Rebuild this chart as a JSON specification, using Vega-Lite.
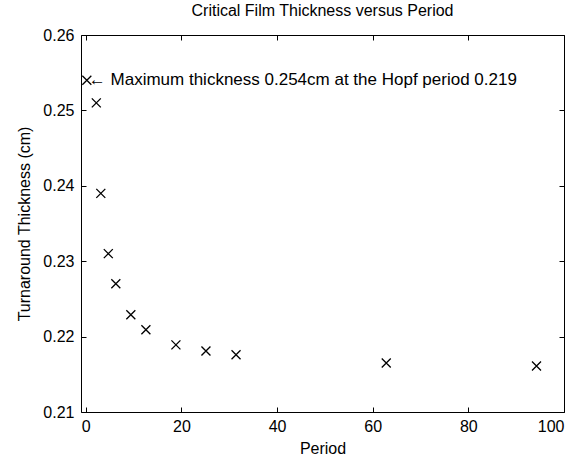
{
  "$schema": "https://vega.github.io/schema/vega-lite/v6.json",
  "autosize": "none",
  "width": 483,
  "height": 377,
  "padding": {"left": 81, "top": 35, "right": 23, "bottom": 46},
  "title": {"text": "Critical Film Thickness versus Period", "font": "Liberation Sans", "fontSize": 16, "fontWeight": "normal", "color": "black", "offset": 8},
  "config": {
    "view": {"stroke": "black", "strokeWidth": 1},
    "font": "Liberation Sans",
    "axis": {"grid": false, "domain": false, "tickColor": "black", "tickSize": -5, "labelColor": "black", "labelFont": "Liberation Sans", "labelFontSize": 16, "titleFont": "Liberation Sans", "titleFontSize": 16, "titleFontWeight": "normal", "titleColor": "black"}
  },
  "data": {"values": [
    {"period": 0.219, "thickness": 0.254, "label": "← Maximum thickness 0.254cm at the Hopf period 0.219"},
    {"period": 2.2, "thickness": 0.251, "label": ""},
    {"period": 3.14, "thickness": 0.239, "label": ""},
    {"period": 4.71, "thickness": 0.231, "label": ""},
    {"period": 6.28, "thickness": 0.227, "label": ""},
    {"period": 9.42, "thickness": 0.2229, "label": ""},
    {"period": 12.57, "thickness": 0.2209, "label": ""},
    {"period": 18.85, "thickness": 0.2189, "label": ""},
    {"period": 25.13, "thickness": 0.2181, "label": ""},
    {"period": 31.42, "thickness": 0.2176, "label": ""},
    {"period": 62.83, "thickness": 0.2165, "label": ""},
    {"period": 94.25, "thickness": 0.2161, "label": ""}
  ]},
  "layer": [
    {
      "mark": {"type": "point", "shape": "M-1,-1L1,1M-1,1L1,-1", "filled": false, "size": 81, "stroke": "black", "strokeWidth": 1.3, "opacity": 1},
      "encoding": {
        "x": {"field": "period", "type": "quantitative", "scale": {"domain": [-1, 100], "nice": false, "zero": false}, "axis": {"orient": "bottom", "title": "Period", "values": [0, 20, 40, 60, 80, 100], "labelPadding": 11, "titlePadding": 6}},
        "y": {"field": "thickness", "type": "quantitative", "scale": {"domain": [0.21, 0.26], "nice": false, "zero": false}, "axis": {"orient": "left", "title": "Turnaround Thickness (cm)", "values": [0.21, 0.22, 0.23, 0.24, 0.25, 0.26], "format": ".2f", "labelPadding": 12, "titlePadding": 10}}
      }
    },
    {
      "mark": {"type": "text", "align": "left", "baseline": "middle", "dx": 2, "fontSize": 17, "font": "Liberation Sans", "color": "black"},
      "encoding": {
        "x": {"field": "period", "type": "quantitative", "axis": {"orient": "top", "title": null, "labels": false, "values": [0, 20, 40, 60, 80, 100]}},
        "y": {"field": "thickness", "type": "quantitative", "axis": {"orient": "right", "title": null, "labels": false, "values": [0.21, 0.22, 0.23, 0.24, 0.25, 0.26]}},
        "text": {"field": "label"}
      }
    }
  ],
  "resolve": {"axis": {"x": "independent", "y": "independent"}}
}
